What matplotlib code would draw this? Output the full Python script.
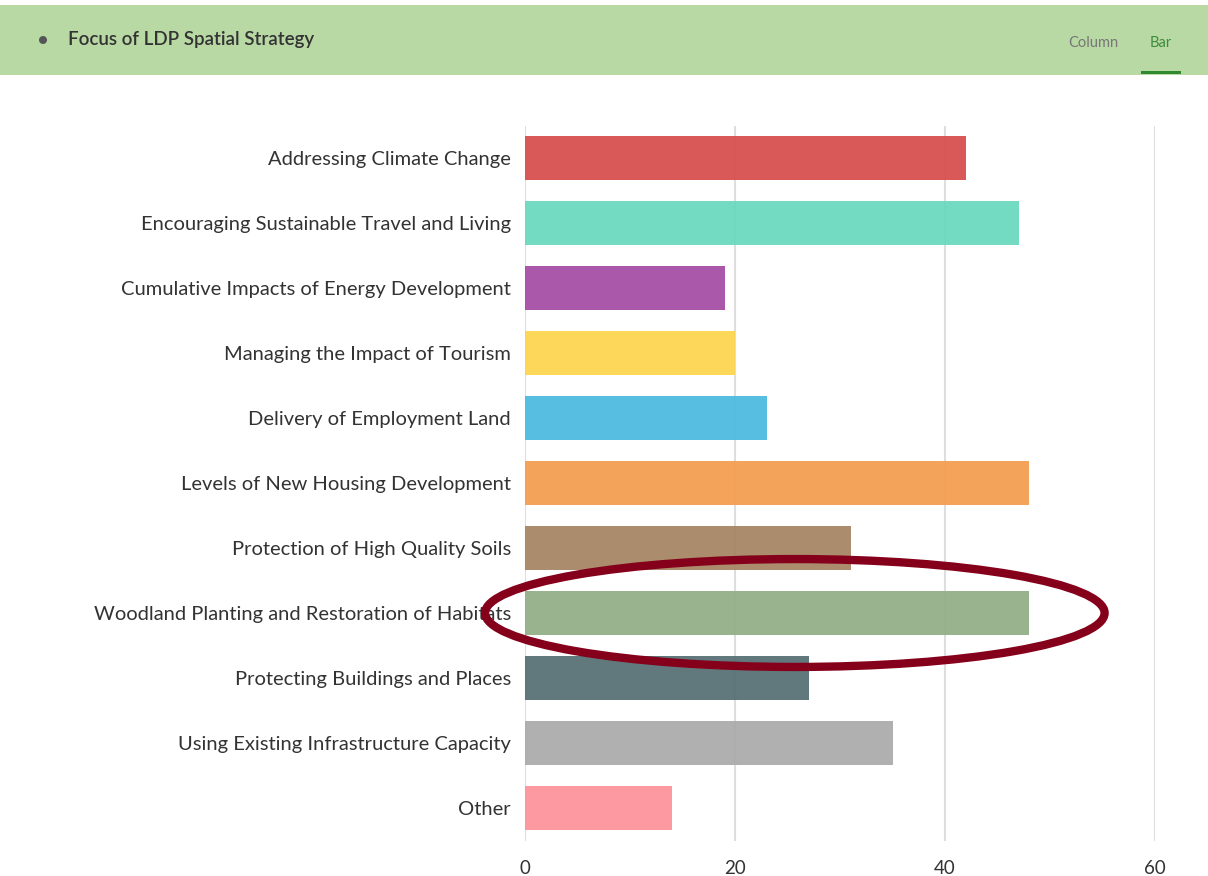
import matplotlib.pyplot as plt
from matplotlib.patches import Ellipse, Rectangle
import numpy as np

plt.rcParams['font.family'] = ['Lato', 'DejaVu Sans']

# Chart data
categories = [
    "Addressing Climate Change",
    "Encouraging Sustainable Travel and Living",
    "Cumulative Impacts of Energy Development",
    "Managing the Impact of Tourism",
    "Delivery of Employment Land",
    "Levels of New Housing Development",
    "Protection of High Quality Soils",
    "Woodland Planting and Restoration of Habitats",
    "Protecting Buildings and Places",
    "Using Existing Infrastructure Capacity",
    "Other",
]
values = [42, 47, 19, 20, 23, 48, 31, 48, 27, 35, 14]
bar_colors = [
    "#d64b4b", "#67d8bd", "#a34aa3", "#fdd44c", "#4ab9df", "#f49c4c",
    "#a4825f", "#91ad86", "#536c72", "#a9a9a9", "#fd9099",
]
x_ticks = [0, 20, 40, 60]
highlight = "Woodland Planting and Restoration of Habitats"

W, H = 1208, 876
fig = plt.figure(figsize=(W / 100, H / 100), dpi=100)
fig.patch.set_facecolor('white')

# header band
fig.add_artist(Rectangle((0, 1 - 75 / H), 1, 70 / H, transform=fig.transFigure,
                         facecolor='#b8d8a4', edgecolor='none'))
fig.add_artist(Ellipse((43 / W, 1 - 40 / H), 8 / W, 8 / H, transform=fig.transFigure,
                       facecolor='#555555', edgecolor='none'))
fig.text(68 / W, 1 - 40 / H, "Focus of LDP Spatial Strategy", fontsize=13.5,
         fontweight='semibold', color='#333333', va='center', ha='left')
fig.text(1093 / W, 1 - 43 / H, "Column", fontsize=10.5, color='#777777',
         va='center', ha='center')
fig.text(1161 / W, 1 - 43 / H, "Bar", fontsize=10.5, color='#3c8c3c',
         va='center', ha='center')
fig.add_artist(Rectangle((1141 / W, 1 - 74 / H), 40 / W, 3 / H,
                         transform=fig.transFigure, facecolor='#2f8a2f',
                         edgecolor='none'))

# bar chart
ax = fig.add_axes([525 / W, 1 - 840.5 / H, 630 / W, 715 / H])
y = np.arange(len(categories))
ax.barh(y, values, height=0.68, color=bar_colors, alpha=0.92, zorder=2)
ax.set_ylim(len(categories) - 0.5, -0.5)
ax.set_xlim(0, 60)
ax.set_xticks(x_ticks)
ax.set_yticks(y)
ax.set_yticklabels(categories)
ax.tick_params(axis='y', length=0, pad=10, labelsize=14.5, labelcolor='#333333')
ax.tick_params(axis='x', length=0, pad=14, labelsize=13.5, labelcolor='#333333')
ax.grid(axis='x', color='#dedede', linewidth=1.5, zorder=1)
ax.set_axisbelow(True)
for s in ax.spines.values():
    s.set_visible(False)

# hand-drawn highlight ellipse around the woodland bar
idx = categories.index(highlight)
ax.add_patch(Ellipse((25.7, idx), width=59.0, height=1.66, fill=False,
                     edgecolor='#85001a', linewidth=6, clip_on=False, zorder=5))

fig.savefig('out.png', dpi=100)
